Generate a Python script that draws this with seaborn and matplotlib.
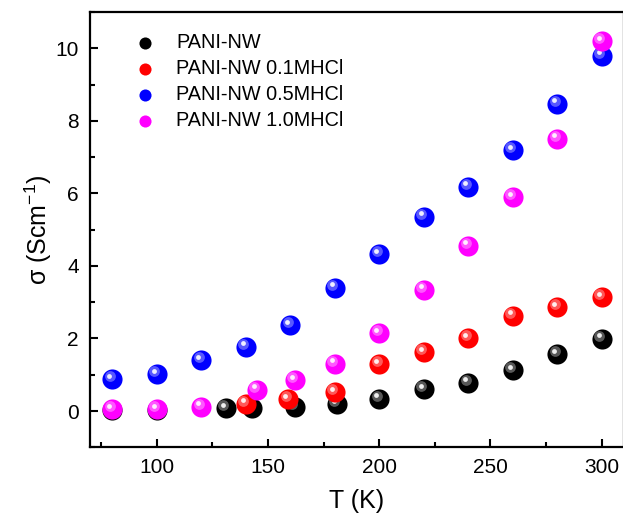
import matplotlib
matplotlib.use("Agg")
import matplotlib.pyplot as plt
import matplotlib.transforms as mtransforms
from matplotlib.ticker import MultipleLocator
import seaborn as sns
import pandas as pd

# ---- data ----
series_names = ["PANI-NW", "PANI-NW 0.1MHCl", "PANI-NW 0.5MHCl", "PANI-NW 1.0MHCl"]
series_colors = ["#000000", "#ff0000", "#0000ff", "#ff00ff"]

black_T = [80, 100, 131, 143, 162, 181, 200, 220, 240, 260, 280, 300]
black_s = [0.03, 0.03, 0.07, 0.07, 0.11, 0.19, 0.34, 0.60, 0.78, 1.12, 1.56, 1.99]
red_T = [140, 159, 180, 200, 220, 240, 260, 280, 300]
red_s = [0.20, 0.32, 0.52, 1.29, 1.62, 2.01, 2.63, 2.86, 3.13]
blue_T = [80, 100, 120, 140, 160, 180, 200, 220, 240, 260, 280, 300]
blue_s = [0.87, 1.01, 1.40, 1.77, 2.37, 3.40, 4.32, 5.36, 6.18, 7.19, 8.47, 9.80]
mag_T = [80, 100, 120, 145, 162, 180, 200, 220, 240, 260, 280, 300]
mag_s = [0.05, 0.05, 0.12, 0.58, 0.85, 1.31, 2.14, 3.34, 4.55, 5.89, 7.51, 10.19]

x_ticks = [100, 150, 200, 250, 300]
y_ticks = [0, 2, 4, 6, 8, 10]

all_T = [black_T, red_T, blue_T, mag_T]
all_s = [black_s, red_s, blue_s, mag_s]

# ---- style ----
sns.set_style("ticks")
plt.rcParams["font.family"] = ["Liberation Sans", "DejaVu Sans"]
plt.rcParams["text.color"] = "black"
plt.rcParams["axes.labelcolor"] = "black"
plt.rcParams["xtick.color"] = "black"
plt.rcParams["ytick.color"] = "black"
plt.rcParams["axes.edgecolor"] = "black"

fig = plt.figure(figsize=(6.23, 5.19), dpi=100)
ax = fig.add_axes([90 / 623, (519 - 447.3) / 519, 534 / 623, 435.3 / 519])

hl_transform = mtransforms.offset_copy(ax.transData, fig=fig, x=-2.5, y=3.0, units="dots")
core_transform = mtransforms.offset_copy(ax.transData, fig=fig, x=-3.0, y=3.5, units="dots")

for name, color, T, s in zip(series_names, series_colors, all_T, all_s):
    df = pd.DataFrame({"T": T, "sigma": s})
    sns.scatterplot(data=df, x="T", y="sigma", ax=ax, color=color, s=210,
                    linewidth=0, label=name)
    ax.scatter(df["T"], df["sigma"], s=60, color="white", alpha=0.35,
               linewidth=0, transform=hl_transform, label="_nolegend_")
    ax.scatter(df["T"], df["sigma"], s=12, color="white", alpha=0.9,
               linewidth=0, transform=core_transform, label="_nolegend_")

ax.set_xlim(70, 310)
ax.set_ylim(-1, 11)
ax.set_xticks(x_ticks)
ax.set_yticks(y_ticks)
ax.xaxis.set_minor_locator(MultipleLocator(25))
ax.yaxis.set_minor_locator(MultipleLocator(1))
ax.tick_params(which="major", direction="in", length=6, width=1.5, labelsize=15,
               top=False, right=False, pad=8)
ax.tick_params(which="minor", direction="in", length=3.5, width=1.5,
               top=False, right=False)
for sp in ax.spines.values():
    sp.set_linewidth(1.6)
    sp.set_edgecolor("black")
    sp.set_visible(True)

ax.set_xlabel("T (K)", fontsize=18, labelpad=8)
ax.set_ylabel(r"σ (Scm$^{\mathregular{-1}}$)", fontsize=18, labelpad=1)

leg = ax.legend(loc="upper left", bbox_to_anchor=(0.085, 0.952), frameon=False,
                fontsize=14.3, markerscale=0.6, handlelength=1.0,
                handletextpad=1.05, labelspacing=0.35, borderpad=0,
                borderaxespad=0)

fig.savefig("out.png", dpi=100)
